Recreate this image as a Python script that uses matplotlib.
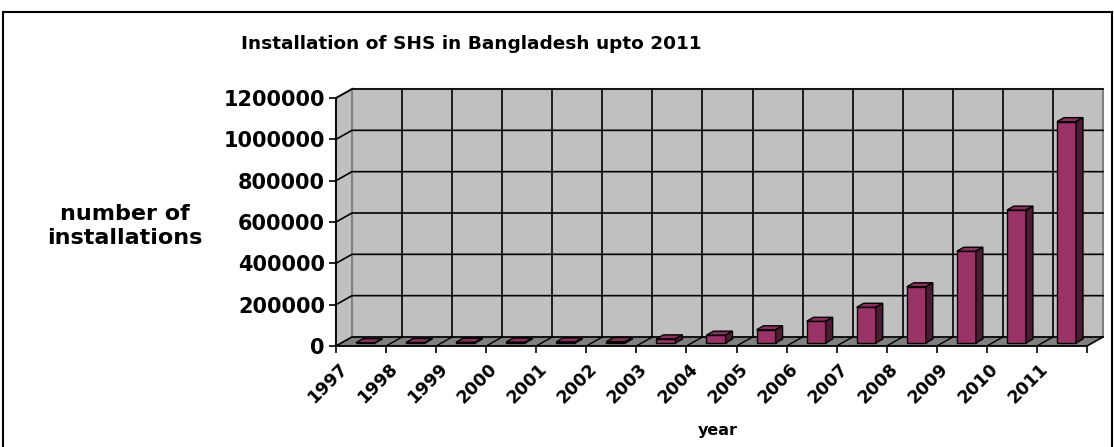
import numpy as np
import matplotlib.pyplot as plt
from matplotlib.patches import Rectangle, Polygon
from matplotlib.transforms import ScaledTranslation

# ------------------------------------------------------------
# data
# ------------------------------------------------------------
years = ["1997", "1998", "1999", "2000", "2001", "2002", "2003", "2004",
         "2005", "2006", "2007", "2008", "2009", "2010", "2011"]
installations = [1500, 2500, 3500, 4500, 5500, 7000, 20000, 38000,
                 64000, 105000, 173000, 272000, 444000, 643000, 1071000]
y_ticks = [0, 200000, 400000, 600000, 800000, 1000000, 1200000]

W, H = 1114, 447
DPI = 100
FONT = "DejaVu Sans"

wall_col = "#c0c0c0"
floor_col = "#808080"
edge_gray = "#808080"
bar_front = "#993366"
bar_top = "#8c2f5f"
bar_side = "#4d1a33"

fig = plt.figure(figsize=(W / DPI, H / DPI), dpi=DPI)
fig.patch.set_facecolor("white")

# front plane of the 3D box
ax = fig.add_axes([336 / W, (H - 346) / H, 751 / W, 248 / H])
ax.set_facecolor("none")
n = len(years)
xlim = (-0.5, n - 0.5)
ylim = (0, 1200000)
ax.set_xlim(*xlim)
ax.set_ylim(*ylim)


def px_to_data(px, py):
    sx = ax.bbox.width / (xlim[1] - xlim[0])
    sy = ax.bbox.height / (ylim[1] - ylim[0])
    return px / sx, py / sy


# depth of the box and of the bars, in pixels
dwx, dwy = px_to_data(16, 9)
bfx, bfy = px_to_data(4.5, 3)
bdx, bdy = px_to_data(7, 4)

x0, x1 = xlim
ytop = ylim[1]

# back wall, left wall, floor
ax.add_patch(Rectangle((x0 + dwx, dwy), x1 - x0, ytop, facecolor=wall_col,
                       edgecolor=edge_gray, lw=1.5, zorder=0, clip_on=False))
ax.add_patch(Polygon([(x0, 0), (x0, ytop), (x0 + dwx, ytop + dwy), (x0 + dwx, dwy)],
                     closed=True, facecolor=wall_col, edgecolor=edge_gray, lw=1.5,
                     zorder=0, clip_on=False))
ax.add_patch(Polygon([(x0, 0), (x1, 0), (x1 + dwx, dwy), (x0 + dwx, dwy)],
                     closed=True, facecolor=floor_col, edgecolor="none",
                     zorder=0.5, clip_on=False))

# gridlines on the walls
for v in y_ticks:
    ax.plot([x0, x0 + dwx, x1 + dwx], [v, v + dwy, v + dwy], color="black",
            lw=1.2, zorder=1, clip_on=False)
boundaries = np.arange(n + 1) - 0.5
for b in boundaries[1:-1]:
    ax.plot([b + dwx, b + dwx], [dwy, ytop + dwy], color="black", lw=1.2,
            zorder=1, clip_on=False)
    ax.plot([b, b + dwx], [0, dwy], color="black", lw=1.0, zorder=1,
            clip_on=False)
ax.plot([x1, x1 + dwx], [0, dwy], color="black", lw=1.2, zorder=1, clip_on=False)

# bars with top and side faces
xs = np.arange(n)
bw = 0.38
bars = ax.bar(xs - bw / 2 + bfx, installations, width=bw, bottom=bfy, align="edge",
              color=bar_front, edgecolor="black", lw=1.0, zorder=3)
for rect, h in zip(bars, installations):
    l = rect.get_x()
    r = l + rect.get_width()
    t = bfy + h
    ax.add_patch(Polygon([(l, t), (r, t), (r + bdx, t + bdy), (l + bdx, t + bdy)],
                         closed=True, facecolor=bar_top, edgecolor="black",
                         lw=1.0, zorder=3, clip_on=False))
    ax.add_patch(Polygon([(r, bfy), (r, t), (r + bdx, t + bdy), (r + bdx, bfy + bdy)],
                         closed=True, facecolor=bar_side, edgecolor="black",
                         lw=1.0, zorder=3, clip_on=False))

# axes lines and ticks
for s in ["top", "right"]:
    ax.spines[s].set_visible(False)
for s in ["left", "bottom"]:
    ax.spines[s].set_color("black")
    ax.spines[s].set_linewidth(1.3)
    ax.spines[s].set_zorder(4)

ax.set_yticks(y_ticks)
ax.set_yticklabels([str(v) for v in y_ticks], fontsize=15, fontweight="bold",
                   family=FONT)
ax.set_xticks(boundaries)
ax.set_xticklabels([])
ax.tick_params(axis="both", direction="out", length=5, width=1.2, color="black")
ax.tick_params(axis="y", pad=3)

# year labels sit on the category boundaries
lab_tr = ax.transData + ScaledTranslation(2 / DPI, -14 / DPI, fig.dpi_scale_trans)
for i, yr in enumerate(years):
    ax.text(i - 0.5, 0, yr, rotation=45, rotation_mode="anchor", ha="right",
            va="top", fontsize=12.5, fontweight="bold", family=FONT,
            transform=lab_tr, clip_on=False)

# titles
fig.text(471 / W, 1 - 44 / H, "Installation of SHS in Bangladesh upto 2011",
         ha="center", va="center", fontsize=13.3, fontweight="bold", family=FONT)
fig.text(125 / W, 1 - 226 / H, "number of\ninstallations", ha="center",
         va="center", fontsize=16, fontweight="bold", family=FONT,
         linespacing=1.2)
fig.text(718 / W, 1 - 430 / H, "year", ha="center", va="center", fontsize=11.5,
         fontweight="bold", family=FONT)

# chart frame
fig.patches.append(Rectangle((3 / W, -0.05), 1109 / W, 1 - 12 / H + 0.05,
                             transform=fig.transFigure, fill=False,
                             edgecolor="black", lw=1.5))

fig.savefig("out.png", dpi=DPI)
